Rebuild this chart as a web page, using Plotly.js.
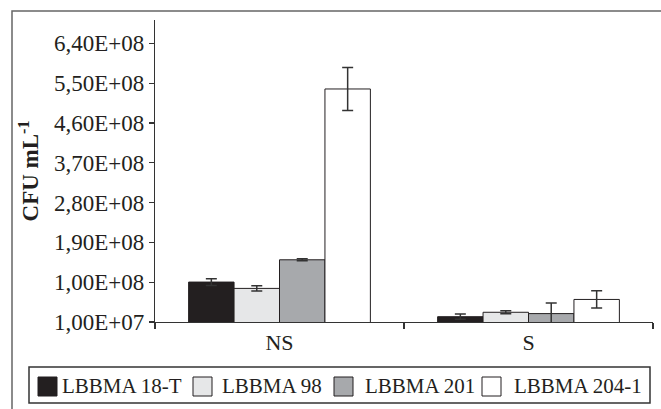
<!DOCTYPE html>
<html>
<head>
<meta charset="utf-8">
<script src="https://cdn.plot.ly/plotly-3.0.1.min.js"></script>
<style>html,body{margin:0;padding:0;background:#fff;}#chart{width:661px;height:409px;}</style>
</head>
<body>
<div id="chart"></div>
<script>
const categories = ["NS", "S"];
const seriesNames = ["LBBMA 18-T", "LBBMA 98", "LBBMA 201", "LBBMA 204-1"];
const values18T = [1.003e8, 2.2e7];
const values98 = [8.6e7, 3.2e7];
const values201 = [1.507e8, 2.9e7];
const values2041 = [5.37e8, 6.1e7];
const err18T = [7.5e6, 6e6];
const err98 = [6e6, 3.4e6];
const err201 = [2.3e6, 2.4e7];
const err2041 = [4.85e7, 1.95e7];
const tickValues = [1e7, 1e8, 1.9e8, 2.8e8, 3.7e8, 4.6e8, 5.5e8, 6.4e8];
const tickLabels = ["1,00E+07", "1,00E+08", "1,90E+08", "2,80E+08", "3,70E+08", "4,60E+08", "5,50E+08", "6,40E+08"];

const fills = ["#231f20", "#e6e7e8", "#a7a9ac", "#ffffff"];
const allValues = [values18T, values98, values201, values2041];
const allErrs = [err18T, err98, err201, err2041];

const traces = seriesNames.map((name, i) => ({
  type: "bar",
  name: name,
  x: categories,
  y: allValues[i],
  marker: {color: fills[i], line: {color: "#231f20", width: 1}},
  error_y: {type: "data", array: allErrs[i], visible: true, color: "#333333", thickness: 1.5, width: 5.5},
  showlegend: false
}));

// geometry of plot area in pixels
const M = {l: 155, r: 8, t: 20, b: 87};
const W = 661, H = 409;
const pw = W - M.l - M.r, ph = H - M.t - M.b;
const px = v => (v - M.l) / pw;
const py = v => (H - M.b - v) / ph;

const font = "Liberation Serif";

// legend drawn as box + swatches + labels (series names and fills from arrays above)
const legendSwatchX = [38, 193, 334, 482];
const legendTextX = [62, 222, 365, 514];
const legendTop = 367, legendBottom = 403, swTop = 377, swSize = 19;
const shapes = [{
  type: "rect", xref: "paper", yref: "paper",
  x0: px(12), x1: 2, y0: -2, y1: py(11),
  line: {color: "#666666", width: 1.5}, fillcolor: "rgba(0,0,0,0)", layer: "below"
}, {
  type: "rect", xref: "paper", yref: "paper",
  x0: px(29), x1: px(650), y0: py(legendBottom), y1: py(legendTop),
  line: {color: "#333333", width: 1.5}, fillcolor: "rgba(0,0,0,0)"
}];
const annotations = [];
seriesNames.forEach((name, i) => {
  shapes.push({
    type: "rect", xref: "paper", yref: "paper",
    x0: px(legendSwatchX[i]), x1: px(legendSwatchX[i] + swSize),
    y0: py(swTop + swSize), y1: py(swTop),
    line: {color: "#231f20", width: 1}, fillcolor: fills[i]
  });
  annotations.push({
    xref: "paper", yref: "paper",
    x: px(legendTextX[i] - 2), y: py((legendTop + legendBottom) / 2 + 1),
    xanchor: "left", yanchor: "middle", showarrow: false,
    text: name, font: {family: font, size: 21, color: "#231f20"}
  });
});

const layout = {
  width: W, height: H,
  margin: {l: M.l, r: M.r, t: M.t, b: M.b, autoexpand: false},
  paper_bgcolor: "#ffffff", plot_bgcolor: "#ffffff",
  font: {family: font, size: 21, color: "#231f20"},
  barmode: "group",
  bargap: 0.27,
  bargroupgap: 0,
  showlegend: false,
  xaxis: {
    type: "category",
    showline: true, linecolor: "#333333", linewidth: 1.2,
    ticks: "outside", tickson: "boundaries", ticklen: 6, tickcolor: "#333333", tickwidth: 1.2,
    showgrid: false, zeroline: false,
    tickfont: {family: font, size: 22, color: "#231f20"}
  },
  yaxis: {
    range: [1e7, 6.93e8],
    showline: true, linecolor: "#333333", linewidth: 1.2,
    ticks: "outside", ticklen: 5, tickcolor: "#333333", tickwidth: 1.2,
    tickvals: tickValues, ticktext: tickLabels,
    showgrid: false, zeroline: false,
    tickfont: {family: font, size: 23, color: "#231f20"},
    title: {text: "<b>CFU mL<sup>-1</sup></b>", font: {family: font, size: 23, color: "#231f20"}, standoff: 8}
  },
  shapes: shapes,
  annotations: annotations
};

Plotly.newPlot("chart", traces, layout, {displayModeBar: false, staticPlot: true});
</script>
</body>
</html>
